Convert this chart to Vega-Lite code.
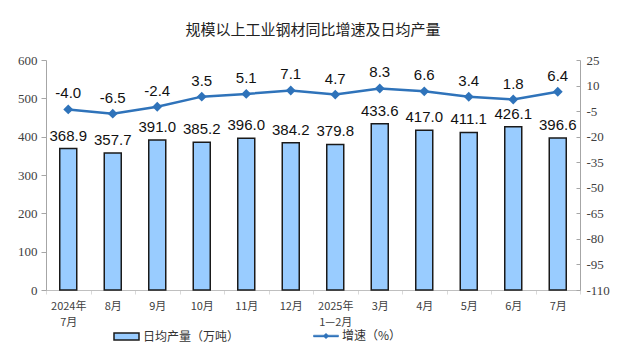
{
  "$schema": "https://vega.github.io/schema/vega-lite/v6.json",
  "width": 534,
  "height": 230,
  "autosize": {"type": "none"},
  "padding": {"left": 46, "top": 60, "right": 49, "bottom": 67},
  "background": "white",
  "title": {
    "text": "规模以上工业钢材同比增速及日均产量",
    "font": "Noto Sans CJK SC",
    "fontSize": 15,
    "fontWeight": "normal",
    "color": "#222222",
    "anchor": "middle",
    "offset": 16
  },
  "config": {
    "view": {"stroke": null}
  },
  "data": {
    "values": [
      {"m": "2024年|7月", "out": 368.9, "rate": -4.0, "rt": "-4.0"},
      {"m": "8月", "out": 357.7, "rate": -6.5, "rt": "-6.5"},
      {"m": "9月", "out": 391.0, "rate": -2.4, "rt": "-2.4"},
      {"m": "10月", "out": 385.2, "rate": 3.5, "rt": "3.5"},
      {"m": "11月", "out": 396.0, "rate": 5.1, "rt": "5.1"},
      {"m": "12月", "out": 384.2, "rate": 7.1, "rt": "7.1"},
      {"m": "2025年|1—2月", "out": 379.8, "rate": 4.7, "rt": "4.7"},
      {"m": "3月", "out": 433.6, "rate": 8.3, "rt": "8.3"},
      {"m": "4月", "out": 417.0, "rate": 6.6, "rt": "6.6"},
      {"m": "5月", "out": 411.1, "rate": 3.4, "rt": "3.4"},
      {"m": "6月", "out": 426.1, "rate": 1.8, "rt": "1.8"},
      {"m": "7月", "out": 396.6, "rate": 6.4, "rt": "6.4"}
    ]
  },
  "encoding": {
    "x": {
      "field": "m",
      "type": "nominal",
      "sort": null,
      "scale": {"paddingInner": 0, "paddingOuter": 0},
      "axis": {
        "title": null,
        "grid": false,
        "labelAngle": 0,
        "labelExpr": "split(datum.label, '|')",
        "labelLineHeight": 16,
        "labelPadding": 6,
        "labelFont": "Noto Sans CJK SC",
        "labelFontSize": 11,
        "labelColor": "#404040",
        "labelOverlap": false,
        "tickBand": "extent",
        "tickSize": 4,
        "domainColor": "#BFBFBF",
        "tickColor": "#D9D9D9"
      }
    }
  },
  "layer": [
    {
      "encoding": {
        "y": {
          "field": "out",
          "type": "quantitative",
          "scale": {"domain": [0, 600], "nice": false},
          "axis": {
            "orient": "left",
            "title": null,
            "grid": false,
            "values": [0, 100, 200, 300, 400, 500, 600],
            "labelOverlap": false,
            "labelFont": "Liberation Serif",
            "labelFontSize": 13,
            "labelColor": "#404040",
            "domainColor": "#A6A6A6",
            "tickColor": "#A6A6A6",
            "tickSize": 5,
            "labelPadding": 4
          }
        }
      },
      "layer": [
        {
          "mark": {"type": "bar", "size": 17, "stroke": "#1A1A1A", "strokeWidth": 1.5},
          "encoding": {
            "fill": {
              "datum": "日均产量（万吨）",
              "scale": {"range": ["#99CCFF"]},
              "legend": {
                "orient": "none",
                "legendX": 67,
                "legendY": 263,
                "title": null,
                "symbolType": "M-1,-0.28L1,-0.28L1,0.28L-1,0.28Z",
                "symbolSize": 625,
                "symbolStrokeColor": "#1A1A1A",
                "symbolStrokeWidth": 1.5,
                "labelFont": "Noto Sans CJK SC",
                "labelFontSize": 12,
                "labelColor": "#333333",
                "labelOffset": 3
              }
            }
          }
        },
        {
          "mark": {"type": "text", "baseline": "bottom", "dy": -5, "font": "Liberation Sans", "fontSize": 15, "color": "#111111"},
          "encoding": {
            "text": {"field": "out", "type": "quantitative", "format": ".1f"}
          }
        }
      ]
    },
    {
      "encoding": {
        "y": {
          "field": "rate",
          "type": "quantitative",
          "scale": {"domain": [-110, 25], "nice": false},
          "axis": {
            "orient": "right",
            "title": null,
            "grid": false,
            "values": [-110, -95, -80, -65, -50, -35, -20, -5, 10, 25],
            "labelExpr": "replace(datum.label, '−', '-')",
            "labelOverlap": false,
            "labelFont": "Liberation Serif",
            "labelFontSize": 13,
            "labelColor": "#404040",
            "domainColor": "#A6A6A6",
            "tickColor": "#A6A6A6",
            "tickSize": -4,
            "labelPadding": 10
          }
        }
      },
      "layer": [
        {
          "mark": {"type": "line", "color": "#2F73BA", "strokeWidth": 2.5, "point": {"shape": "diamond", "size": 50, "filled": true, "color": "#2F73BA"}},
          "encoding": {
            "stroke": {
              "datum": "增速（%）",
              "scale": {"range": ["#2F73BA"]},
              "legend": {
                "orient": "none",
                "legendX": 267,
                "legendY": 263,
                "title": null,
                "symbolType": "M-1,-0.07L1,-0.07L1,0.07L-1,0.07Z M0,-0.22L0.22,0L0,0.22L-0.22,0Z",
                "symbolSize": 625,
                "symbolFillColor": "#2F73BA",
                "symbolStrokeColor": "#2F73BA",
                "symbolStrokeWidth": 0.5,
                "labelFont": "Noto Sans CJK SC",
                "labelFontSize": 12,
                "labelColor": "#333333",
                "labelOffset": 3
              }
            }
          }
        },
        {
          "mark": {"type": "text", "baseline": "bottom", "dy": -8, "font": "Liberation Sans", "fontSize": 15, "color": "#111111"},
          "encoding": {
            "text": {"field": "rt", "type": "nominal"}
          }
        }
      ]
    }
  ],
  "resolve": {"scale": {"y": "independent", "fill": "independent", "stroke": "independent"}}
}
